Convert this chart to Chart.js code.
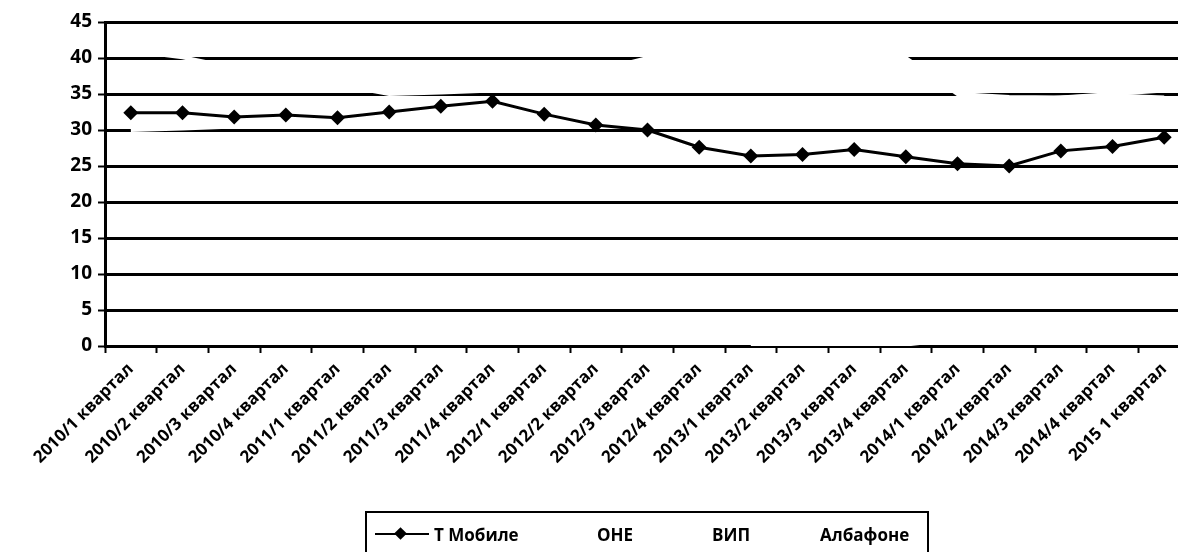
<!DOCTYPE html>
<html>
<head>
<meta charset="utf-8">
<script src="https://cdn.jsdelivr.net/npm/chart.js@4"></script>
<style>
    body { margin: 0; overflow: hidden; background: #fff; }
    #wrap { position: relative; width: 1200px; height: 552px; }
    #legend {
        position: absolute; left: 365px; top: 511px; width: 564px; height: 60px;
        border: 2px solid #000; box-sizing: border-box;
        font: bold 17px "Open Sans", sans-serif; color: #000;
    }
    .item { position: absolute; top: 10px; height: 22px; display: flex; align-items: center; }
    .sample { position: relative; width: 54px; height: 22px; margin-right: 5px; }
    .sample .ln { position: absolute; left: 0; right: 0; top: 10px; height: 2px; }
    .sample .dm { position: absolute; left: 21px; top: 6px; width: 9px; height: 9px; transform: rotate(45deg); }
</style>
</head>
<body>
<div id="wrap">
    <canvas id="chart" width="1200" height="552"></canvas>
    <div id="legend"></div>
</div>
<script>
const categories = [
    '2010/1 квартал', '2010/2 квартал', '2010/3 квартал', '2010/4 квартал',
    '2011/1 квартал', '2011/2 квартал', '2011/3 квартал', '2011/4 квартал',
    '2012/1 квартал', '2012/2 квартал', '2012/3 квартал', '2012/4 квартал',
    '2013/1 квартал', '2013/2 квартал', '2013/3 квартал', '2013/4 квартал',
    '2014/1 квартал', '2014/2 квартал', '2014/3 квартал', '2014/4 квартал',
    '2015 1 квартал'
];
const seriesNames = ['Т Мобиле', 'ОНЕ', 'ВИП', 'Албафоне'];

// T Mobile is the only series still visible; the others print almost white
const tMobile = [32.4, 32.4, 31.8, 32.1, 31.7, 32.5, 33.3, 34.0, 32.2, 30.7, 30.0,
    27.6, 26.4, 26.6, 27.3, 26.3, 25.3, 25.0, 27.1, 27.7, 29.0];
const one = [41.0, 40.1, 38.6, 38.0, 36.3, 35.0, 35.2, 35.5, 36.5, 38.2, 40.0,
    40.0, 40.0, 40.0, 40.0, 40.0, 35.0, 34.6, 34.5, 34.8, 34.5];
const vip = [30.0, 30.2, 30.5, 30.5, 31.0, 31.6, 31.9, 32.0, 32.0, 31.8, 31.6,
    31.5, 31.6, 31.7, 31.6, 31.6, 33.0, 34.0, 34.5, 35.0, 35.5];
const albafone = [null, null, null, null, null, null, null, null, null, null, null,
    null, 0.2, 0.2, 0.2, 0.2, 1.0, 1.6, 2.0, 1.6, 2.2];

const yMin = 0;
const yMax = 45;
const yStep = 5;

// text start of each legend entry, relative to the legend box
const legendX = [8, 230, 345, 453];

const xFont = { family: '"Open Sans", sans-serif', size: 17, weight: 'bold' };
const yFont = { family: '"Open Sans", sans-serif', size: 19, weight: 'bold' };

const chartCanvas = document.getElementById('chart');

function faintSeries(label, data) {
    return {
        label: label,
        data: data,
        borderColor: '#ffffff',
        backgroundColor: '#ffffff',
        borderWidth: 4,
        pointRadius: 0,
        tension: 0
    };
}

const chartData = {
    labels: categories,
    datasets: [
        {
            label: seriesNames[0],
            data: tMobile,
            borderColor: '#000',
            backgroundColor: '#000',
            borderWidth: 3,
            pointStyle: 'rectRot',
            pointRadius: 7.5,
            pointBorderWidth: 0,
            tension: 0
        },
        faintSeries(seriesNames[1], one),
        faintSeries(seriesNames[2], vip),
        faintSeries(seriesNames[3], albafone)
    ]
};

const chartOptions = {
    responsive: false,
    animation: false,
    layout: { padding: { top: 22, right: 10, left: 0, bottom: 0 } },
    plugins: {
        legend: { display: false },
        tooltip: { enabled: false }
    },
    scales: {
        x: {
            offset: true,
            grid: {
                offset: true,
                drawOnChartArea: false,
                drawTicks: true,
                tickLength: 7,
                tickColor: '#000',
                tickWidth: 2
            },
            border: { display: true, color: '#000', width: 3 },
            ticks: {
                color: '#000',
                font: xFont,
                autoSkip: false,
                minRotation: 45,
                maxRotation: 45,
                padding: 6
            },
            afterFit: scale => { scale.height = 552 - 346; }
        },
        y: {
            min: yMin,
            max: yMax,
            ticks: { stepSize: yStep, color: '#000', font: yFont, padding: 6 },
            grid: {
                color: '#000',
                lineWidth: 3,
                tickLength: 7,
                tickColor: '#000',
                tickWidth: 2
            },
            border: { display: true, color: '#000', width: 3 },
            afterFit: scale => { scale.width = 105; }
        }
    }
};

new Chart(chartCanvas, {
    type: 'line',
    data: chartData,
    options: chartOptions
});

// Legend box at the bottom, built from the dataset names
const legend = document.getElementById('legend');
chartData.datasets.forEach((ds, i) => {
    const item = document.createElement('div');
    item.className = 'item';
    item.style.left = legendX[i] + 'px';
    if (i === 0) {
        const sample = document.createElement('div');
        sample.className = 'sample';
        sample.innerHTML = `<div class="ln" style="background:${ds.borderColor}"></div>` +
            `<div class="dm" style="background:${ds.borderColor}"></div>`;
        item.appendChild(sample);
    }
    const text = document.createElement('span');
    text.textContent = ds.label;
    item.appendChild(text);
    legend.appendChild(item);
});
</script>
</body>
</html>
